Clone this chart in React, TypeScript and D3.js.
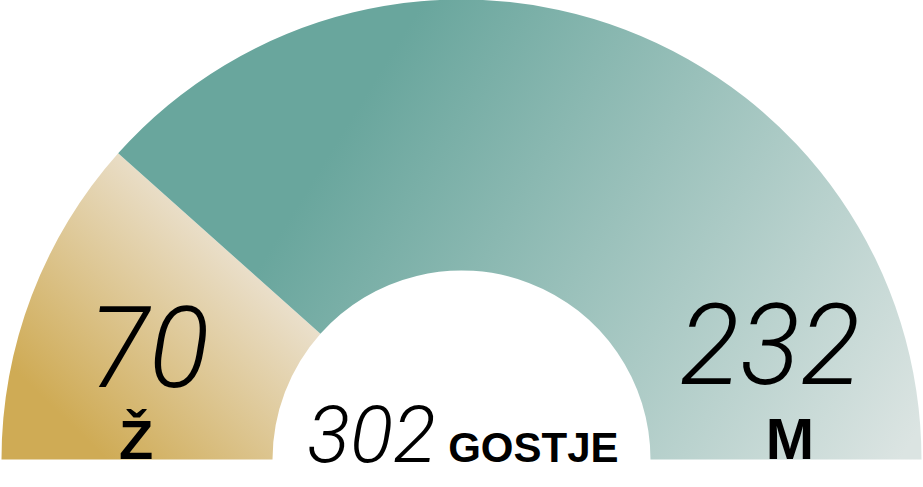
import React from "react";
import * as d3 from "d3";

const categories = ["Ž", "M"];
const values = [70, 232];
const totalLabel = "GOSTJE";

const W = 923;
const H = 487;

export default function App() {
  const cx = 461.5;
  const cy = 459.5;
  const outerR = 460;
  const innerR = 189;
  const total = d3.sum(values);

  const pie = d3
    .pie<number>()
    .sort(null)
    .startAngle(-Math.PI / 2)
    .endAngle(Math.PI / 2)
    .value((d) => d);
  const arcs = pie(values);
  const arcGen = d3.arc<d3.PieArcDatum<number>>().innerRadius(innerR).outerRadius(outerR);

  const fills = ["url(#gGold)", "url(#gTeal)"];
  const numberPos = [
    { x: 149, y: 387, size: 112 },
    { x: 770, y: 384, size: 112 },
  ];
  const labelPos = [
    { x: 136, y: 459, size: 56 },
    { x: 790, y: 459, size: 58 },
  ];

  return (
    <svg width={W} height={H} style={{ position: "absolute", left: 0, top: 0, display: "block" }}>
      <style>{`body{margin:0}`}</style>
      <defs>
        <linearGradient id="gGold" gradientUnits="userSpaceOnUse" x1={40 - cx} y1={395 - cy} x2={225 - cx} y2={205 - cy}>
          <stop offset="0" stopColor="#cfab55" />
          <stop offset="1" stopColor="#ede5d8" />
        </linearGradient>
        <linearGradient id="gTeal" gradientUnits="userSpaceOnUse" x1={350 - cx} y1={120 - cy} x2={900 - cx} y2={460 - cy}>
          <stop offset="0" stopColor="#69a69d" />
          <stop offset="1" stopColor="#dbe4e2" />
        </linearGradient>
      </defs>
      <g transform={`translate(${cx},${cy})`}>
        {arcs.map((a, i) => (
          <path key={categories[i]} d={arcGen(a) || ""} fill={fills[i]} />
        ))}
      </g>
      {values.map((v, i) => (
        <text
          key={"n" + i}
          x={numberPos[i].x}
          y={numberPos[i].y}
          textAnchor="middle"
          fontFamily="Roboto, 'Open Sans', sans-serif"
          fontWeight={300}
          fontStyle="italic"
          fontSize={numberPos[i].size}
          fill="#000"
        >
          {v}
        </text>
      ))}
      {categories.map((c, i) => (
        <text
          key={"l" + i}
          x={labelPos[i].x}
          y={labelPos[i].y}
          textAnchor="middle"
          fontFamily="'Liberation Sans', Arial, sans-serif"
          fontWeight={700}
          fontSize={labelPos[i].size}
          fill="#000"
        >
          {c}
        </text>
      ))}
      <text x={307} y={462} fontFamily="Roboto, sans-serif" fontWeight={300} fontStyle="italic" fontSize={80} fill="#000">
        {total}
        <tspan dx={12} fontFamily="'Liberation Sans', Arial, sans-serif" fontWeight={700} fontStyle="normal" fontSize={42}>
          {totalLabel}
        </tspan>
      </text>
    </svg>
  );
}
